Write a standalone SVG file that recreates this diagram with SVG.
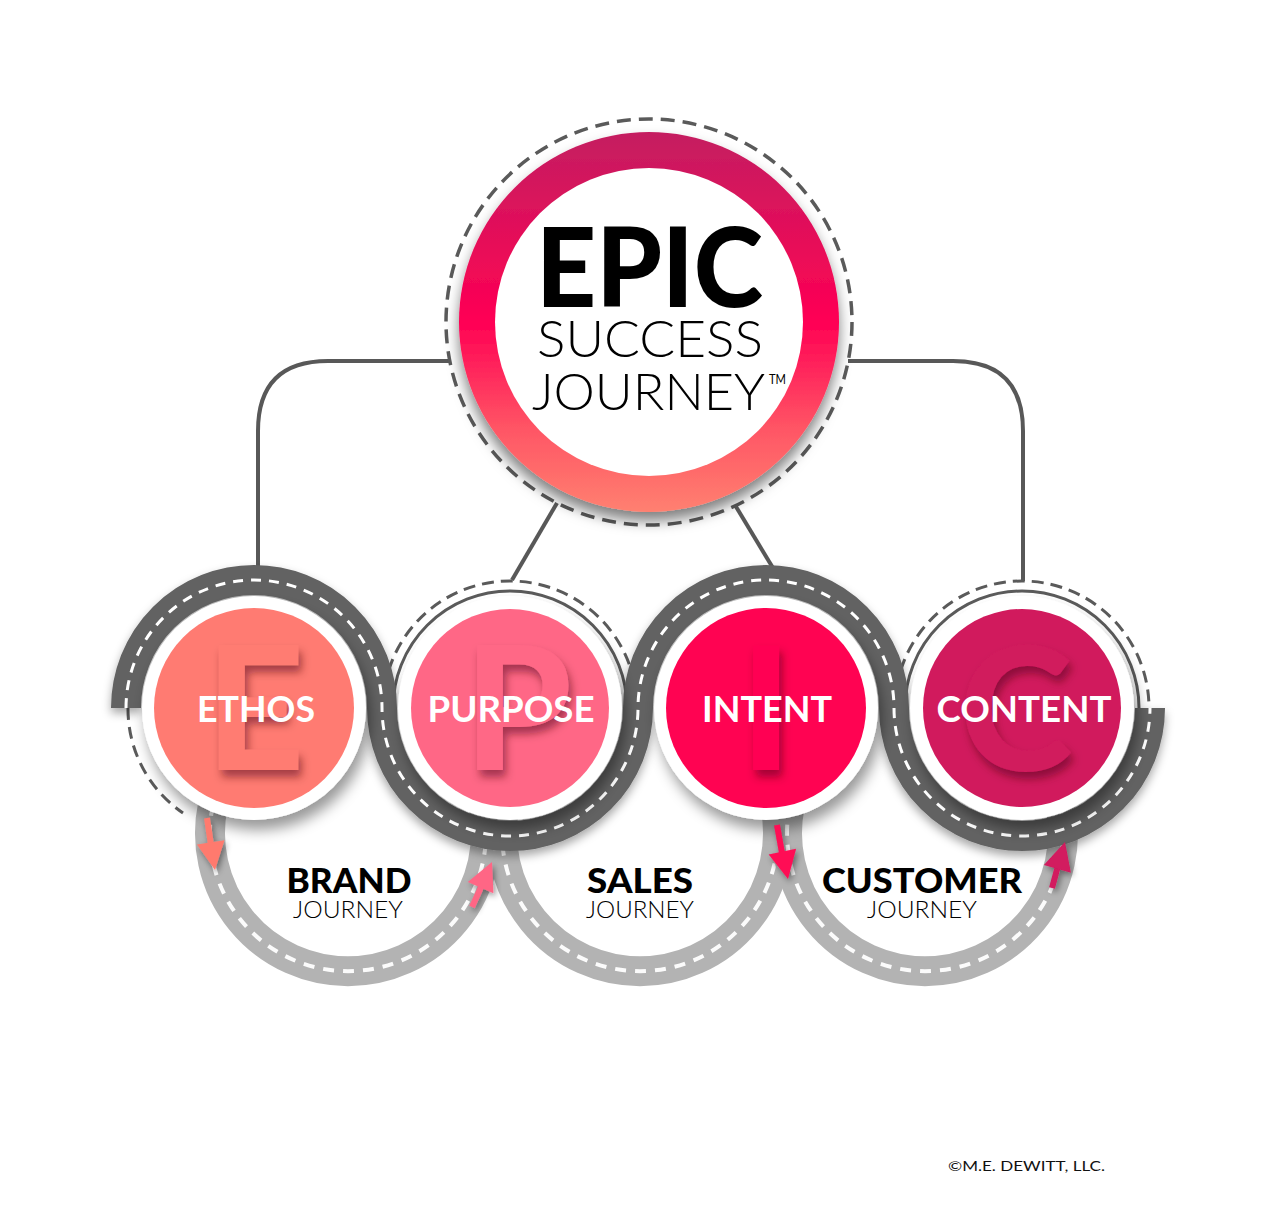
<svg xmlns="http://www.w3.org/2000/svg" width="1280" height="1218" viewBox="0 0 1280 1218">
<defs>
<linearGradient id="ringGrad" x1="0" y1="0" x2="0" y2="1">
<stop offset="0" stop-color="#C41E60"/>
<stop offset="0.5" stop-color="#FF0054"/>
<stop offset="0.78" stop-color="#FF5565"/>
<stop offset="1" stop-color="#FF8070"/>
</linearGradient>
<filter id="bigShadow" x="-30%" y="-30%" width="160%" height="160%">
<feDropShadow dx="0" dy="9" stdDeviation="7" flood-color="#000" flood-opacity="0.5"/>
</filter>
<filter id="nodeShadow" x="-30%" y="-30%" width="160%" height="160%">
<feDropShadow dx="4" dy="10" stdDeviation="7" flood-color="#000" flood-opacity="0.4"/>
</filter>
<filter id="roadShadow" x="-10%" y="-30%" width="120%" height="160%">
<feDropShadow dx="0" dy="5" stdDeviation="5" flood-color="#000" flood-opacity="0.35"/>
</filter>
<filter id="letterShadow" x="-30%" y="-30%" width="160%" height="160%">
<feDropShadow dx="3" dy="7" stdDeviation="4" flood-color="#4a0018" flood-opacity="0.5"/>
</filter>
<filter id="arrowShadow" x="-50%" y="-50%" width="200%" height="200%">
<feDropShadow dx="2" dy="3" stdDeviation="3" flood-color="#000" flood-opacity="0.45"/>
</filter>
</defs>
<style>
.conn{fill:none;stroke:#585858;stroke-width:4;}
.dashRing{fill:none;stroke:#5a5a5a;stroke-width:3;stroke-dasharray:12 7;}
.topDash{fill:none;stroke:#5a5a5a;stroke-width:3.5;stroke-dasharray:14 8;}
.thinRing{fill:none;stroke:#5a5a5a;stroke-width:3;}
.darkRoad{fill:none;stroke:#626262;stroke-width:30;}
.lightRoad{fill:none;stroke:#B3B3B3;stroke-width:30;}
.roadDash{fill:none;stroke:#ffffff;stroke-width:3;stroke-dasharray:10 8;}
.lightDash{fill:none;stroke:#ffffff;stroke-width:4;stroke-dasharray:11 9;opacity:0.95;}
.bigLetter{font-family:Lato,"Liberation Sans",sans-serif;font-weight:900;font-size:172px;text-anchor:middle;}
.label{font-family:Lato,"Liberation Sans",sans-serif;font-weight:700;font-size:37px;fill:#fff;text-anchor:middle;}
.jTitle{font-family:Lato,"Liberation Sans",sans-serif;font-weight:900;font-size:35px;fill:#000;text-anchor:middle;}
.jSub{font-family:Lato,"Liberation Sans",sans-serif;font-weight:300;font-size:23px;fill:#000;text-anchor:middle;}
.head{font-family:Lato,"Liberation Sans",sans-serif;fill:#000;}
</style>
<rect x="0" y="0" width="1280" height="1218" fill="#ffffff"/>

<g id="connectors">
<path class="conn" d="M 450,361 H 328 Q 258,361 258,431 V 568"/>
<path class="conn" d="M 848,361 H 953 Q 1023,361 1023,431 V 581"/>
<path class="conn" d="M 557,503 L 512,580"/>
<path class="conn" d="M 735,505 L 773,568"/>
</g>

<g id="lower-roads">
<path class="lightRoad" d="M 212.9,805 A 138 138 0 1 0 483.1,805"/>
<path class="lightDash" d="M 212.9,805 A 138 138 0 1 0 483.1,805"/>
<path class="lightRoad" d="M 504.9,805 A 138 138 0 1 0 775.1,805"/>
<path class="lightDash" d="M 504.9,805 A 138 138 0 1 0 775.1,805"/>
<path class="lightRoad" d="M 789.9,805 A 138 138 0 1 0 1060.1,805"/>
<path class="lightDash" d="M 789.9,805 A 138 138 0 1 0 1060.1,805"/>
</g>

<g id="rings">
<path class="dashRing" d="M 128,708 A 126 126 0 0 0 183,813"/>
<circle class="dashRing" cx="510" cy="708" r="127"/>
<circle class="thinRing" cx="510" cy="708" r="117"/>
<circle class="dashRing" cx="1022" cy="708" r="127"/>
<circle class="thinRing" cx="1022" cy="708" r="117"/>
</g>

<g id="dark-road" filter="url(#roadShadow)">
<path class="darkRoad" d="M 126,708 A 128 128 0 0 1 382,708 A 128 128 0 0 0 638,708 A 128 128 0 0 1 894,708 A 128 128 0 0 0 1150,708"/>
<path class="roadDash" d="M 126,708 A 128 128 0 0 1 382,708 A 128 128 0 0 0 638,708 A 128 128 0 0 1 894,708 A 128 128 0 0 0 1150,708"/>
</g>

<g id="node-ethos">
<circle cx="254" cy="708" r="112" fill="#fff" filter="url(#nodeShadow)"/>
<circle cx="254" cy="708" r="100" fill="#FF7B72"/>
<text class="bigLetter" x="255" y="770" fill="#FF7B72" filter="url(#letterShadow)">E</text>
<text class="label" x="256" y="722" textLength="118" lengthAdjust="spacingAndGlyphs">ETHOS</text>
</g>
<g id="node-purpose">
<circle cx="510" cy="708" r="112" fill="#fff" filter="url(#nodeShadow)"/>
<circle cx="510" cy="708" r="99" fill="#FF6786"/>
<text class="bigLetter" x="518" y="770" fill="#FF6786" filter="url(#letterShadow)">P</text>
<text class="label" x="511" y="722" textLength="167" lengthAdjust="spacingAndGlyphs">PURPOSE</text>
</g>
<g id="node-intent">
<circle cx="766" cy="708" r="112" fill="#fff" filter="url(#nodeShadow)"/>
<circle cx="766" cy="708" r="100" fill="#FF0352"/>
<text class="bigLetter" x="766" y="770" fill="#FF0352" filter="url(#letterShadow)">I</text>
<text class="label" x="767" y="722" textLength="130" lengthAdjust="spacingAndGlyphs">INTENT</text>
</g>
<g id="node-content">
<circle cx="1022" cy="708" r="112" fill="#fff" filter="url(#nodeShadow)"/>
<circle cx="1022" cy="708" r="99" fill="#D11A5D"/>
<text class="bigLetter" x="1016" y="771" fill="#D11A5D" filter="url(#letterShadow)">C</text>
<text class="label" x="1024" y="722" textLength="175" lengthAdjust="spacingAndGlyphs">CONTENT</text>
</g>

<g id="arrows" filter="url(#arrowShadow)">
<g id="arrow-ethos" fill="#FF7A6E" stroke="#FF7A6E">
<line x1="207" y1="818" x2="211" y2="845" stroke-width="6"/>
<polygon points="215,870 224.5,840.2 196.9,844.4" stroke="none"/>
</g>
<g id="arrow-purpose" fill="#FF6685" stroke="#FF6685">
<line x1="472" y1="907" x2="482" y2="885" stroke-width="6"/>
<polygon points="492,862 493.4,893.3 467.8,881.9" stroke="none"/>
</g>
<g id="arrow-intent" fill="#FF0A54" stroke="#FF0A54">
<line x1="777" y1="825" x2="782" y2="853" stroke-width="6"/>
<polygon points="788,879 796.1,848.8 768.7,854.4" stroke="none"/>
</g>
<g id="arrow-content" fill="#D21A5E" stroke="#D21A5E">
<line x1="1052" y1="888" x2="1058" y2="866" stroke-width="6"/>
<polygon points="1065,842 1070.9,872.7 1043.9,865.1" stroke="none"/>
</g>
</g>

<g id="node-epic">
<circle class="topDash" cx="649" cy="322" r="203"/>
<circle cx="649" cy="322" r="190" fill="url(#ringGrad)" filter="url(#bigShadow)"/>
<circle cx="649" cy="322" r="154" fill="#fff"/>
<text class="head" x="536" y="307" font-size="110" font-weight="900" textLength="227" lengthAdjust="spacingAndGlyphs">EPIC</text>
<text class="head" x="537" y="357" font-size="51" font-weight="300" textLength="226" lengthAdjust="spacingAndGlyphs">SUCCESS</text>
<text class="head" x="532" y="410" font-size="51" font-weight="300" textLength="233" lengthAdjust="spacingAndGlyphs">JOURNEY</text>
<text class="head" x="769" y="384" font-size="13" font-weight="400" textLength="17" lengthAdjust="spacingAndGlyphs">TM</text>
</g>

<g id="label-brand">
<text class="jTitle" x="349" y="893" textLength="125" lengthAdjust="spacingAndGlyphs">BRAND</text>
<text class="jSub" x="348" y="918" textLength="110" lengthAdjust="spacingAndGlyphs">JOURNEY</text>
</g>
<g id="label-sales">
<text class="jTitle" x="640" y="893" textLength="106" lengthAdjust="spacingAndGlyphs">SALES</text>
<text class="jSub" x="640" y="918" textLength="108" lengthAdjust="spacingAndGlyphs">JOURNEY</text>
</g>
<g id="label-customer">
<text class="jTitle" x="922" y="893" textLength="200" lengthAdjust="spacingAndGlyphs">CUSTOMER</text>
<text class="jSub" x="922" y="918" textLength="110" lengthAdjust="spacingAndGlyphs">JOURNEY</text>
</g>

<text id="copyright" x="948" y="1171" font-family="Lato,'Liberation Sans',sans-serif" font-size="13.5" fill="#111" textLength="157" lengthAdjust="spacingAndGlyphs">©M.E. DEWITT, LLC.</text>
</svg>
